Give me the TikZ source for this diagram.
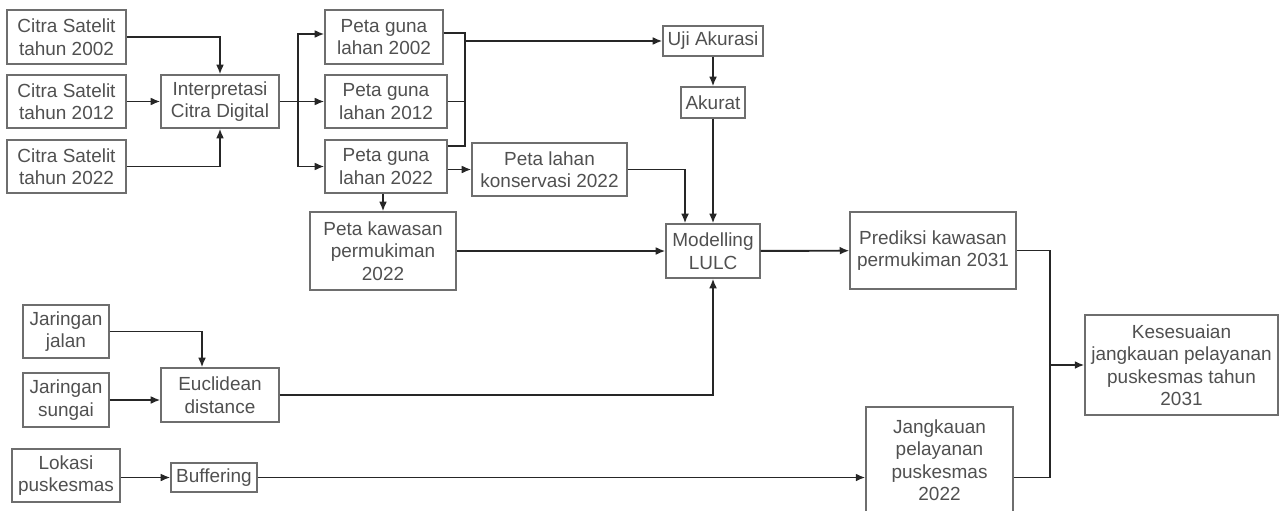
\documentclass[tikz,border=0pt]{standalone}
\usepackage{fontspec}
\setmainfont{Liberation Sans}
\usetikzlibrary{arrows.meta}
\definecolor{txtgray}{HTML}{505050}
\definecolor{boxgray}{HTML}{6E6E6E}

\begin{document}
\begin{tikzpicture}[x=0.02cm,y=-0.02cm]

\tikzstyle{bx} = [rectangle, draw=boxgray, line width=0.7pt, text=txtgray, align=center, inner sep=1pt, font=\fontsize{10.8}{12.8}\selectfont]
\tikzstyle{ln} = [line width=1.1pt, draw=black!85]
\tikzstyle{ar} = [ln, -{Latex[length=5.5pt,width=4.5pt]}]

\useasboundingbox (0,0) rectangle (1280,510);

\node (cs02) [bx, minimum width=2.38cm, minimum height=1.08cm] at (66.5,37) {Citra Satelit\\tahun 2002};
\node (cs12) [bx, minimum width=2.38cm, minimum height=1.06cm] at (66.5,101.5) {Citra Satelit\\tahun 2012};
\node (cs22) [bx, minimum width=2.38cm, minimum height=1.06cm] at (66.5,166.5) {Citra Satelit\\tahun 2022};
\node (interp) [bx, minimum width=2.36cm, minimum height=1.06cm] at (220,101.5) {Interpretasi\\Citra Digital};
\node (pg02) [bx, minimum width=2.36cm, minimum height=1.08cm] at (384,37) {Peta guna\\lahan 2002};
\node (pg12) [bx, minimum width=2.44cm, minimum height=1.06cm] at (386,101.5) {Peta guna\\lahan 2012};
\node (pg22) [bx, minimum width=2.44cm, minimum height=1.06cm] at (386,166.5) {Peta guna\\lahan 2022};
\node (uji) [bx, minimum width=2.0cm, minimum height=0.6cm] at (713,41) {Uji Akurasi};
\node (akurat) [bx, minimum width=1.28cm, minimum height=0.62cm] at (713,102.5) {Akurat};
\node (konserv) [bx, minimum width=3.1cm, minimum height=1.06cm] at (549.5,169.5) {Peta lahan\\konservasi 2022};
\node (kawasan) [bx, minimum width=2.92cm, minimum height=1.56cm] at (383,251) {Peta kawasan\\permukiman\\2022};
\node (model) [bx, minimum width=1.88cm, minimum height=1.08cm] at (713,251) {Modelling\\LULC};
\node (prediksi) [bx, minimum width=3.32cm, minimum height=1.54cm] at (933,250.5) {Prediksi kawasan\\permukiman 2031};
\node (kes) [bx, minimum width=3.86cm, minimum height=2.0cm] at (1181.5,365) {Kesesuaian\\jangkauan pelayanan\\puskesmas tahun\\2031};
\node (jangkau) [bx, minimum width=2.94cm, minimum height=2.12cm] at (939.5,460) {Jangkauan\\pelayanan\\puskesmas\\2022};
\node (jalan) [bx, minimum width=1.72cm, minimum height=1.06cm] at (66,331.5) {Jaringan\\jalan};
\node (sungai) [bx, minimum width=1.72cm, minimum height=1.08cm] at (66,400) {Jaringan\\sungai};
\node (euclid) [bx, minimum width=2.36cm, minimum height=1.08cm] at (220,395) {Euclidean\\distance};
\node (lokasi) [bx, minimum width=2.16cm, minimum height=1.06cm] at (66,475.5) {Lokasi\\puskesmas};
\node (buffer) [bx, minimum width=1.72cm, minimum height=0.58cm] at (214,477.5) {Buffering};

\coordinate (br1) at (298,101.5);
\coordinate (bustop) at (465,33);
\coordinate (busbot) at (465,146);
\coordinate (bus2) at (1050,365);

\draw[ar] (cs02) -| (interp);
\draw[ar] (cs12) -- (interp);
\draw[ar] (cs22) -| (interp);
\draw[ln] (interp) -- (br1);
\draw[ar] (br1) |- ([yshift=0.06cm]pg02.west);
\draw[ar] (br1) -- (pg12);
\draw[ar] (br1) |- (pg22);
\draw[ln] (pg02.east |- bustop) -- (bustop) -- (busbot) -- (pg22.east |- busbot);
\draw[ln] (pg12) -- (pg12 -| bustop);
\draw[ar] (bustop |- uji) -- (uji);
\draw[ar] (uji) -- (akurat);
\draw[ar] (akurat) -- (model);
\draw[ar] (pg22.east |- konserv) -- (konserv);
\draw[ar] (pg22.south -| kawasan) -- (kawasan);
\draw[ar] (konserv) -| ([xshift=-0.56cm]model.north);
\draw[ar] (kawasan) -- (model);
\draw[ar] (model) -- (prediksi);
\draw[ar] (jalan) -| ([xshift=-0.36cm]euclid.north);
\draw[ar] (sungai) -- (sungai -| euclid.west);
\draw[ar] (euclid) -| (model);
\draw[ar] (lokasi.east |- buffer) -- (buffer);
\draw[ar] (buffer) -- (buffer -| jangkau.west);
\draw[ln] (prediksi) -| (bus2);
\draw[ln] (jangkau.east |- buffer) -| (bus2);
\draw[ar] (bus2) -- (kes);
\end{tikzpicture}
\end{document}
